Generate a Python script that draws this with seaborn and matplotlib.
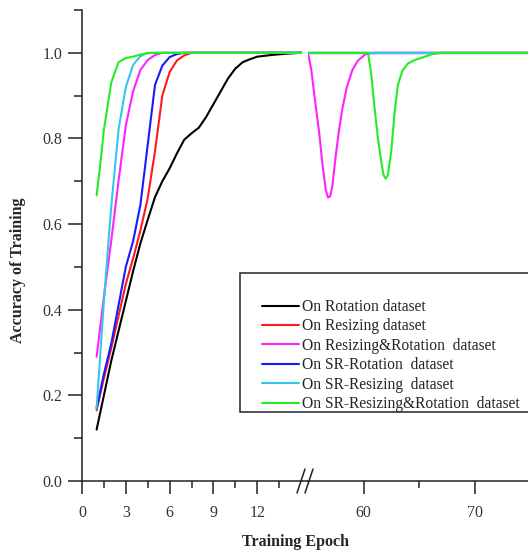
import matplotlib
matplotlib.use("Agg")
import numpy as np
import pandas as pd
import matplotlib.pyplot as plt
from matplotlib.lines import Line2D
from matplotlib.patches import Rectangle
from matplotlib.ticker import FixedLocator
import seaborn as sns

sns.set_style("ticks")
plt.rcParams["font.family"] = ["Liberation Serif", "DejaVu Serif"]

DATASETS = [
    "On Rotation dataset",
    "On Resizing dataset",
    "On Resizing&Rotation  dataset",
    "On SR-Rotation  dataset",
    "On SR-Resizing  dataset",
    "On SR-Resizing&Rotation  dataset",
]
COLORS = ["#000000", "#ff1a1a", "#ff22ff", "#1a1aff", "#33c8e8", "#22ee22"]

# values (epoch, training accuracy)
rot_epoch = [1, 1.5, 2, 2.5, 3, 3.5, 4, 4.5, 5, 5.5, 6, 6.5, 7, 7.5, 8, 8.5, 9,
             9.5, 10, 10.5, 11, 11.5, 12, 13, 14, 15, 75]
rot_acc = [0.12, 0.20, 0.28, 0.35, 0.42, 0.49, 0.555, 0.61, 0.663, 0.70, 0.73,
           0.765, 0.797, 0.812, 0.825, 0.85, 0.88, 0.91, 0.94, 0.963, 0.978,
           0.985, 0.991, 0.995, 0.998, 1.0, 1.0]

res_epoch = [1, 1.5, 2, 2.5, 3, 3.5, 4, 4.5, 5, 5.5, 6, 6.5, 7, 7.5, 75]
res_acc = [0.165, 0.24, 0.31, 0.385, 0.46, 0.52, 0.585, 0.66, 0.77, 0.90, 0.955,
           0.982, 0.994, 1.0, 1.0]

resrot_epoch = [1, 1.5, 2, 2.5, 3, 3.5, 4, 4.5, 5, 5.5, 55, 55.3, 55.6, 56.0,
                56.3, 56.6, 56.8, 57.0, 57.2, 57.5, 57.8, 58.1, 58.5, 59.0,
                59.5, 60.2, 61, 75]
resrot_acc = [0.29, 0.43, 0.56, 0.70, 0.83, 0.91, 0.96, 0.983, 0.995, 1.0, 1.0,
              0.96, 0.895, 0.815, 0.74, 0.68, 0.662, 0.665, 0.69, 0.76, 0.82,
              0.87, 0.92, 0.96, 0.982, 0.997, 1.0, 1.0]

srrot_epoch = [1, 1.5, 2, 2.5, 3, 3.5, 4, 4.5, 5, 5.5, 6, 6.5, 7, 75]
srrot_acc = [0.17, 0.25, 0.32, 0.41, 0.50, 0.56, 0.645, 0.785, 0.925, 0.97,
             0.99, 0.997, 1.0, 1.0]

srres_epoch = [1, 1.5, 2, 2.5, 3, 3.5, 4, 4.5, 75]
srres_acc = [0.17, 0.42, 0.64, 0.82, 0.92, 0.972, 0.992, 1.0, 1.0]

srresrot_epoch = [1, 1.23, 1.5, 2, 2.5, 3, 3.5, 4, 4.5, 5, 60.4, 60.7, 61.0,
                  61.3, 61.6, 61.8, 62.0, 62.2, 62.5, 62.8, 63.1, 63.5, 64.0,
                  64.6, 65.3, 66.2, 67, 75]
srresrot_acc = [0.667, 0.733, 0.82, 0.93, 0.978, 0.988, 0.991, 0.996, 0.999,
                1.0, 1.0, 0.95, 0.87, 0.80, 0.745, 0.715, 0.706, 0.715, 0.77,
                0.86, 0.925, 0.958, 0.975, 0.983, 0.989, 0.997, 1.0, 1.0]

series = [
    (rot_epoch, rot_acc),
    (res_epoch, res_acc),
    (resrot_epoch, resrot_acc),
    (srrot_epoch, srrot_acc),
    (srres_epoch, srres_acc),
    (srresrot_epoch, srresrot_acc),
]
df = pd.concat(
    [pd.DataFrame({"epoch": e, "acc": a, "dataset": name})
     for name, (e, a) in zip(DATASETS, series)],
    ignore_index=True,
)
palette = dict(zip(DATASETS, COLORS))

W, H = 528, 555
fig = plt.figure(figsize=(W / 100, H / 100), dpi=100)
ax_l = fig.add_axes([82 / W, 74 / H, 220 / W, 471 / H])
ax_r = fig.add_axes([308 / W, 74 / H, 220 / W, 471 / H], sharey=ax_l)

for ax in (ax_l, ax_r):
    sns.lineplot(data=df, x="epoch", y="acc", hue="dataset", hue_order=DATASETS,
                 palette=palette, estimator=None, sort=False, lw=1.5,
                 legend=False, ax=ax)
    ax.set_xlabel("")
    ax.set_ylabel("")
    for s in ("top", "right"):
        ax.spines[s].set_visible(False)
    for s in ("left", "bottom"):
        ax.spines[s].set_color("#222222")
        ax.spines[s].set_linewidth(1.1)
    ax.tick_params(which="both", colors="#222222", labelcolor="#333333",
                   labelsize=11.5, width=1.1)
    ax.tick_params(axis="x", which="major", length=9, pad=8)
    ax.tick_params(axis="x", which="minor", length=5)

ax_l.set_xlim(0, 220 / 14.6)
ax_l.set_ylim(0, 1.1)
ax_l.xaxis.set_major_locator(FixedLocator([0, 3, 6, 9, 12]))
ax_l.xaxis.set_minor_locator(FixedLocator([1.5, 4.5, 7.5, 10.5, 13.5]))
ax_l.yaxis.set_major_locator(FixedLocator([0, 0.2, 0.4, 0.6, 0.8, 1.0]))
ax_l.yaxis.set_minor_locator(FixedLocator([0.1, 0.3, 0.5, 0.7, 0.9, 1.1]))
ax_l.set_yticklabels(["0.0", "0.2", "0.4", "0.6", "0.8", "1.0"])
ax_l.tick_params(axis="y", which="major", length=10, pad=4)
ax_l.tick_params(axis="y", which="minor", length=6)

ax_r.set_xlim(55, 55 + 220 / 11.1)
ax_r.xaxis.set_major_locator(FixedLocator([60, 70]))
ax_r.xaxis.set_minor_locator(FixedLocator([65]))
ax_r.spines["left"].set_visible(False)
ax_r.tick_params(axis="y", which="both", left=False, labelleft=False)

# axis break
y0 = 74 / H
fig.add_artist(Line2D([302 / W, 308 / W], [y0, y0], color="#222222", lw=1.1))
for cx in (301, 309):
    fig.add_artist(Line2D([(cx - 4) / W, (cx + 4) / W], [y0 - 12 / H, y0 + 12 / H],
                          color="#222222", lw=1.1))

fig.text(18 / W, 1 - 270 / H, "Accuracy of Training", rotation=90,
         ha="center", va="center", fontsize=11.5, fontweight="bold")
fig.text(295 / W, 1 - 542 / H, "Training Epoch", ha="center", va="center",
         fontsize=11.5, fontweight="bold")

# legend box, wider than the entries as in the original
fig.add_artist(Rectangle((240 / W, 1 - 412 / H), 292 / W, 139 / H,
                         facecolor="white", edgecolor="#222222", lw=1.1))
handles = [Line2D([], [], color=c, lw=1.5) for c in COLORS]
fig.legend(handles, DATASETS, loc="upper left",
           bbox_to_anchor=(262 / W, 1 - 299 / H), fontsize=11.2,
           frameon=False, handlelength=2.38, handletextpad=0.2,
           labelspacing=0.22, borderpad=0, borderaxespad=0)

fig.savefig("out.png", dpi=100)
